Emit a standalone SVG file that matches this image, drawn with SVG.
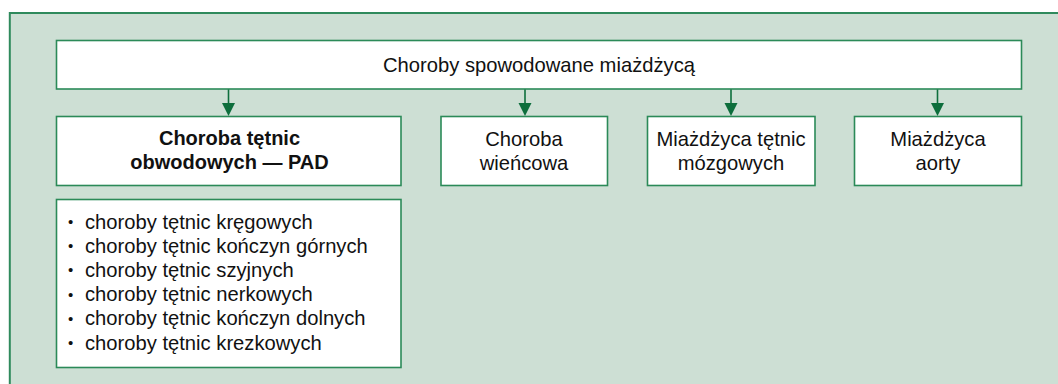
<svg xmlns="http://www.w3.org/2000/svg" width="1058" height="384" viewBox="0 0 1058 384">
  <style>
    .box { fill: #ffffff; stroke: #2b8a58; stroke-width: 1.6; }
    .txt { font-family: "Liberation Sans", Arial, sans-serif; font-size: 20.2px; fill: #111111; }
    .bold { font-weight: bold; font-size: 20px; }
    .mid { text-anchor: middle; }
    .dot { font-size: 15px; }
    .conn { stroke: #0d6e3c; stroke-width: 1.6; fill: none; }
    .head { fill: #0d6e3c; }
  </style>

  <rect width="1058" height="384" fill="#ffffff"/>
  <!-- background panel -->
  <rect x="9.8" y="13" width="1060" height="380" fill="#cddfd4" stroke="#2f8a5c" stroke-width="2"/>

  <g id="connectors">
    <line class="conn" x1="228.5" y1="89" x2="228.5" y2="103"/>
    <path class="head" d="M222,103 L235,103 L228.5,116 Z"/>
    <line class="conn" x1="525" y1="89" x2="525" y2="103"/>
    <path class="head" d="M518.5,103 L531.5,103 L525,116 Z"/>
    <line class="conn" x1="731" y1="89" x2="731" y2="103"/>
    <path class="head" d="M724.5,103 L737.5,103 L731,116 Z"/>
    <line class="conn" x1="937.5" y1="89" x2="937.5" y2="103"/>
    <path class="head" d="M931,103 L944,103 L937.5,116 Z"/>
  </g>

  <g id="root">
    <rect class="box" x="56.5" y="40.5" width="965" height="48.5"/>
    <text class="txt mid" x="539" y="71.5">Choroby spowodowane miażdżycą</text>
  </g>

  <g id="pad">
    <rect class="box" x="56.5" y="116.5" width="344.5" height="69"/>
    <text class="txt bold mid" x="229.5" y="144.5">Choroba tętnic</text>
    <text class="txt bold mid" x="229.5" y="168.5">obwodowych — PAD</text>
  </g>

  <g id="wiencowa">
    <rect class="box" x="441" y="116.5" width="166.5" height="69"/>
    <text class="txt mid" x="524" y="145.5">Choroba</text>
    <text class="txt mid" x="524" y="169.5">wieńcowa</text>
  </g>

  <g id="mozgowe">
    <rect class="box" x="647.5" y="116.5" width="167.5" height="69"/>
    <text class="txt mid" x="731" y="145.5">Miażdżyca tętnic</text>
    <text class="txt mid" x="731" y="169.5">mózgowych</text>
  </g>

  <g id="aorta">
    <rect class="box" x="854.5" y="116.5" width="167" height="69"/>
    <text class="txt mid" x="938" y="145.5">Miażdżyca</text>
    <text class="txt mid" x="938" y="169.5">aorty</text>
  </g>

  <g id="pad-list">
    <rect class="box" x="56.5" y="199.5" width="344.5" height="168"/>
    <g class="txt">
      <text class="dot" x="68" y="227">•</text><text x="85" y="228.5">choroby tętnic kręgowych</text>
      <text class="dot" x="68" y="251.2">•</text><text x="85" y="252.7">choroby tętnic kończyn górnych</text>
      <text class="dot" x="68" y="275.4">•</text><text x="85" y="276.9">choroby tętnic szyjnych</text>
      <text class="dot" x="68" y="299.6">•</text><text x="85" y="301.1">choroby tętnic nerkowych</text>
      <text class="dot" x="68" y="323.8">•</text><text x="85" y="325.3">choroby tętnic kończyn dolnych</text>
      <text class="dot" x="68" y="348">•</text><text x="85" y="349.5">choroby tętnic krezkowych</text>
    </g>
  </g>
</svg>
